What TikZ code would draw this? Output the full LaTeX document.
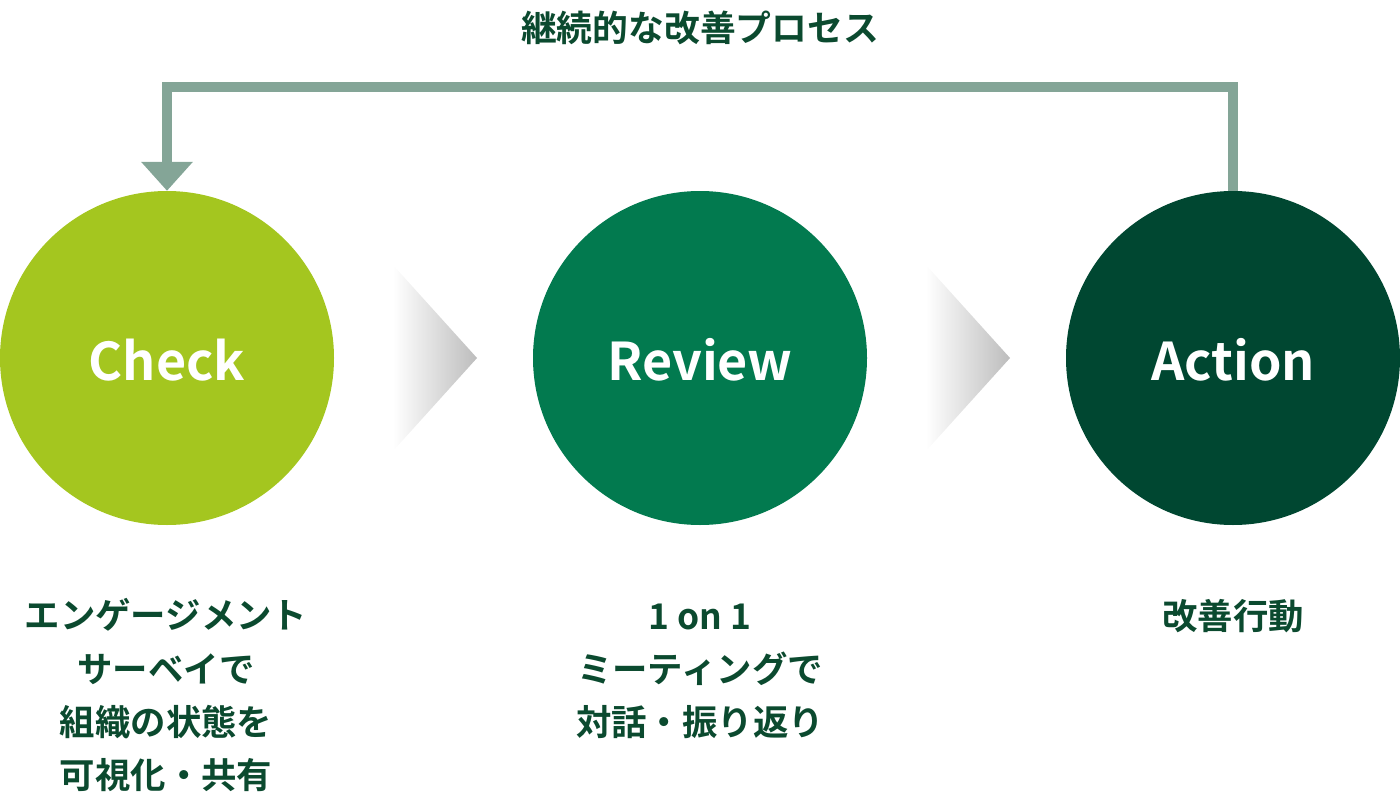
\documentclass[tikz,border=0pt]{standalone}
\usepackage{fontspec}
\setmainfont{Noto Sans CJK JP}[BoldFont={Noto Sans CJK JP Bold}]
\usetikzlibrary{arrows.meta}
\definecolor{cCheck}{HTML}{A4C61F}
\definecolor{cReview}{HTML}{027A4F}
\definecolor{cAction}{HTML}{004731}
\definecolor{cLoop}{HTML}{84A597}
\definecolor{cText}{HTML}{0B4A2F}
\tikzset{
  stage/.style={circle, minimum size=334pt, inner sep=0pt, text=white,
    text height=44pt, text depth=-4pt,
    font=\fontsize{52}{60}\selectfont\bfseries},
  desc/.style={align=center, anchor=base, inner sep=0pt, text=cText,
    font=\fontsize{35.4}{53.2}\selectfont\bfseries},
  loopline/.style={draw=cLoop, line width=10pt, line join=miter,
    -{Triangle[width=50pt,length=29pt]}},
  chev/.style={left color=white, right color=black!26},
}
\begin{document}
\begin{tikzpicture}[x=1pt,y=-1pt]
\useasboundingbox (0,0) rectangle (1400,800);
% stages
\node[stage, fill=cCheck]  (check)  at (167,358)  {Check};
\node[stage, fill=cReview] (review) at (700,358)  {Review};
\node[stage, fill=cAction] (action) at (1233,358) {Action};
% chevrons
\shade[chev] (393,265) -- (477,358) -- (393,451) -- cycle;
\shade[chev] (926,265) -- (1010,358) -- (926,451) -- cycle;
% loop connector
\coordinate (topR) at (1233,87);
\coordinate (topL) at (167,87);
\draw[loopline] (action.north) -- (topR) -- (topL) -- (check.north);
\node[text=cText, font=\fontsize{35.8}{40}\selectfont\bfseries, inner sep=0pt] (title) at (700,28) {継続的な改善プロセス};
% descriptions (anchor = baseline of last line)
\node[desc] (dcheck) at (166,788.5) {エンゲージメント\\サーベイで\\組織の状態を\\可視化・共有};
\node[desc] (dreview) at (700,735.5) {1 on 1\\ミーティングで\\対話・振り返り};
\node[desc] (daction) at (1233,629) {改善行動};
\end{tikzpicture}
\end{document}
